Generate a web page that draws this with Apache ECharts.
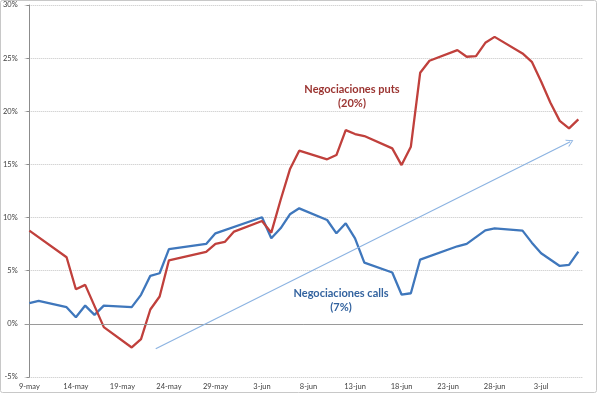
<!DOCTYPE html>
<html>
<head>
<meta charset="utf-8">
<script src="https://cdn.jsdelivr.net/npm/echarts@6/dist/echarts.min.js"></script>
<style>html,body{margin:0;padding:0;background:#fff;}#c{width:600px;height:396px;}</style>
</head>
<body>
<div id="c"></div>
<script>
var dates = ['9-may','10-may','11-may','12-may','13-may','14-may','15-may','16-may','17-may','18-may',
 '19-may','20-may','21-may','22-may','23-may','24-may','25-may','26-may','27-may','28-may',
 '29-may','30-may','31-may','1-jun','2-jun','3-jun','4-jun','5-jun','6-jun','7-jun',
 '8-jun','9-jun','10-jun','11-jun','12-jun','13-jun','14-jun','15-jun','16-jun','17-jun',
 '18-jun','19-jun','20-jun','21-jun','22-jun','23-jun','24-jun','25-jun','26-jun','27-jun',
 '28-jun','29-jun','30-jun','1-jul','2-jul','3-jul','4-jul','5-jul','6-jul','7-jul'];

// Negociaciones puts (%), null = no point on that day
var puts = [8.77,null,null,null,6.27,3.26,3.67,null,-0.31,null,
 null,-2.22,-1.44,1.35,2.57,5.98,null,null,null,6.77,
 7.52,7.71,8.68,null,null,9.68,8.58,11.65,14.54,16.29,
 null,null,15.48,15.88,18.23,17.86,17.67,null,null,16.51,
 14.94,16.67,23.62,24.75,null,null,25.75,25.13,25.19,26.44,
 27.0,null,null,25.44,24.65,22.8,20.8,19.1,18.39,19.24];

// Negociaciones calls (%)
var calls = [1.94,2.16,null,null,1.57,0.63,1.72,0.85,1.72,null,
 null,1.57,2.73,4.52,4.76,7.03,null,null,null,7.52,
 8.52,null,null,null,null,10.03,8.05,8.99,10.31,10.87,
 null,null,9.77,8.52,9.46,8.05,5.76,null,null,4.83,
 2.76,2.88,6.05,null,null,null,7.3,7.52,null,8.8,
 8.99,null,null,8.77,7.64,6.64,null,5.45,5.55,6.80];

// trend arrow: [day index, value %]
var arrowStart = [13.58, -2.35];
var arrowEnd = [58.13, 17.13];

var yTicks = {min: -5, max: 30, interval: 5};

var chart = echarts.init(document.getElementById('c'), null, {renderer: 'canvas'});
var font = 'Lato, "Liberation Sans", sans-serif';
chart.setOption({
  animation: false,
  backgroundColor: '#ffffff',
  grid: {left: 24, right: 17, top: 5, bottom: 19, containLabel: false},
  xAxis: [{
    type: 'category',
    data: dates,
    boundaryGap: true,
    axisLine: {show: false, onZero: false},
    axisTick: {show: false},
    splitLine: {show: false},
    axisLabel: {interval: 4, margin: 6, fontSize: 7.5, color: '#404040', fontFamily: font}
  }, {
    type: 'value',
    min: -0.5,
    max: 59.5,
    show: false
  }],
  yAxis: {
    type: 'value',
    min: yTicks.min,
    max: yTicks.max,
    interval: yTicks.interval,
    axisLine: {show: true, lineStyle: {color: '#8c8c8c', width: 1}},
    axisTick: {show: true, length: 3, lineStyle: {color: '#8c8c8c'}},
    axisLabel: {formatter: '{value}%', fontSize: 7.5, color: '#404040', margin: 7, fontFamily: font},
    splitLine: {show: true, lineStyle: {color: '#c4c4c4', type: [1, 1], width: 1}}
  },
  series: [{
    name: 'Negociaciones calls',
    type: 'line',
    data: calls,
    connectNulls: true,
    symbol: 'none',
    lineStyle: {color: '#3f77bc', width: 2.3},
    z: 3,
    markLine: {
      silent: true,
      symbol: 'none',
      label: {show: false},
      lineStyle: {color: '#9a9a9a', type: 'solid', width: 1},
      data: [{yAxis: 0}]
    }
  }, {
    name: 'Negociaciones puts',
    type: 'line',
    data: puts,
    connectNulls: true,
    symbol: 'none',
    lineStyle: {color: '#c0403c', width: 2.3},
    z: 4
  }, {
    name: 'trend',
    type: 'line',
    xAxisIndex: 1,
    data: [],
    symbol: 'none',
    markLine: {
      silent: true,
      symbol: ['none', 'path://M0,12 L6,0 L12,12 L10.5,12 L6,3 L1.5,12 Z'],
      symbolSize: [8, 7],
      label: {show: false},
      lineStyle: {color: '#8db4e2', type: 'solid', width: 1.2},
      data: [[{coord: arrowStart}, {coord: arrowEnd}]]
    }
  }],
  graphic: [{
    type: 'rect',
    shape: {x: 0.5, y: 0.5, width: 596, height: 392, r: 2},
    style: {fill: 'none', stroke: '#c8c8c8', lineWidth: 1},
    z: 100
  }, {
    type: 'text',
    left: 352 - 60, top: 82,
    style: {text: 'Negociaciones puts\n(20%)', width: 120, align: 'center', textAlign: 'center',
      font: 'bold 11px ' + font, fill: '#9b3431', lineHeight: 14},
    z: 100
  }, {
    type: 'text',
    left: 341 - 60, top: 286,
    style: {text: 'Negociaciones calls\n(7%)', width: 120, align: 'center', textAlign: 'center',
      font: 'bold 11px ' + font, fill: '#33639f', lineHeight: 14},
    z: 100
  }]
});
</script>
</body>
</html>
